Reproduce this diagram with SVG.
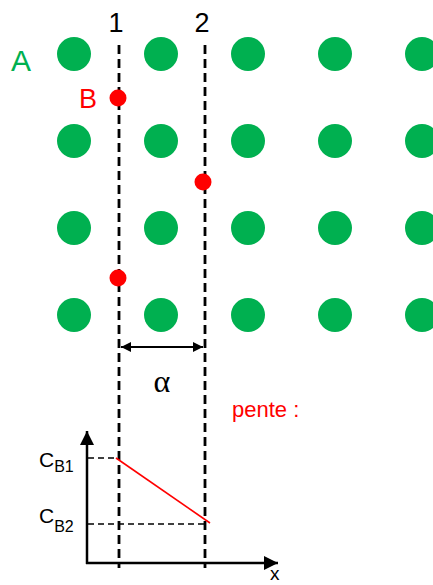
<svg xmlns="http://www.w3.org/2000/svg" width="433" height="585" viewBox="0 0 433 585">
<style>
.a{fill:#00b050}
.b{fill:#ff0000}
.t{font-family:"Liberation Sans",Arial,sans-serif}
.vd{stroke:#000;stroke-width:2.8;stroke-dasharray:9,5;fill:none}
.hd{stroke:#000;stroke-width:1.6;stroke-dasharray:6,4;fill:none}
.ax{stroke:#000;stroke-width:2.5;fill:none}
</style>
<defs>
<marker id="ah" viewBox="0 0 10 10" refX="10" refY="5" markerWidth="10" markerHeight="10" markerUnits="userSpaceOnUse" orient="auto-start-reverse"><path d="M0,0L10,5L0,10z" fill="#000"/></marker>
<marker id="ax" viewBox="0 0 12 12" refX="12" refY="6" markerWidth="14" markerHeight="14" markerUnits="userSpaceOnUse" orient="auto"><path d="M0,0L12,6L0,12z" fill="#000"/></marker>
</defs>
<g id="atoms-A">
<circle class="a" cx="74" cy="54" r="17"/><circle class="a" cx="161" cy="54" r="17"/><circle class="a" cx="248" cy="54" r="17"/><circle class="a" cx="335" cy="54" r="17"/><circle class="a" cx="422" cy="54" r="17"/>
<circle class="a" cx="74" cy="141" r="17"/><circle class="a" cx="161" cy="141" r="17"/><circle class="a" cx="248" cy="141" r="17"/><circle class="a" cx="335" cy="141" r="17"/><circle class="a" cx="422" cy="141" r="17"/>
<circle class="a" cx="74" cy="228" r="17"/><circle class="a" cx="161" cy="228" r="17"/><circle class="a" cx="248" cy="228" r="17"/><circle class="a" cx="335" cy="228" r="17"/><circle class="a" cx="422" cy="228" r="17"/>
<circle class="a" cx="74" cy="315" r="17"/><circle class="a" cx="161" cy="315" r="17"/><circle class="a" cx="248" cy="315" r="17"/><circle class="a" cx="335" cy="315" r="17"/><circle class="a" cx="422" cy="315" r="17"/>
</g>
<g id="connectors">
<line class="vd" x1="119" y1="45" x2="119" y2="568"/>
<line class="vd" x1="205" y1="45" x2="205" y2="568"/>
<line x1="121" y1="347" x2="203" y2="347" stroke="#000" stroke-width="2" marker-start="url(#ah)" marker-end="url(#ah)"/>
<line class="ax" x1="87" y1="564" x2="87" y2="431" marker-end="url(#ax)"/>
<line class="ax" x1="86" y1="563" x2="278" y2="563" marker-end="url(#ax)"/>
<line class="hd" x1="88" y1="458" x2="119" y2="458"/>
<line class="hd" x1="88" y1="524" x2="205" y2="524"/>
<line x1="116" y1="458" x2="210" y2="523" stroke="#ff0000" stroke-width="1.6"/>
</g>
<g id="atoms-B">
<circle class="b" cx="118" cy="98" r="8.5"/>
<circle class="b" cx="203" cy="182" r="8.5"/>
<circle class="b" cx="118" cy="278" r="8.5"/>
</g>
<g id="labels" class="t">
<text x="11" y="71" font-size="30" fill="#00b050">A</text>
<text x="79" y="108" font-size="27" fill="#ff0000">B</text>
<text x="116" y="32" font-size="27" text-anchor="middle">1</text>
<text x="202" y="32" font-size="27" text-anchor="middle">2</text>
<text x="162" y="392" font-size="32" text-anchor="middle" font-family="Liberation Serif,serif">α</text>
<text x="232" y="417" font-size="22" fill="#ff0000">pente :</text>
<text x="39" y="467" font-size="21">C<tspan font-size="16" dy="5">B1</tspan></text>
<text x="39" y="523" font-size="21">C<tspan font-size="16" dy="9">B2</tspan></text>
<text x="270" y="580" font-size="19">x</text>
</g>
</svg>
